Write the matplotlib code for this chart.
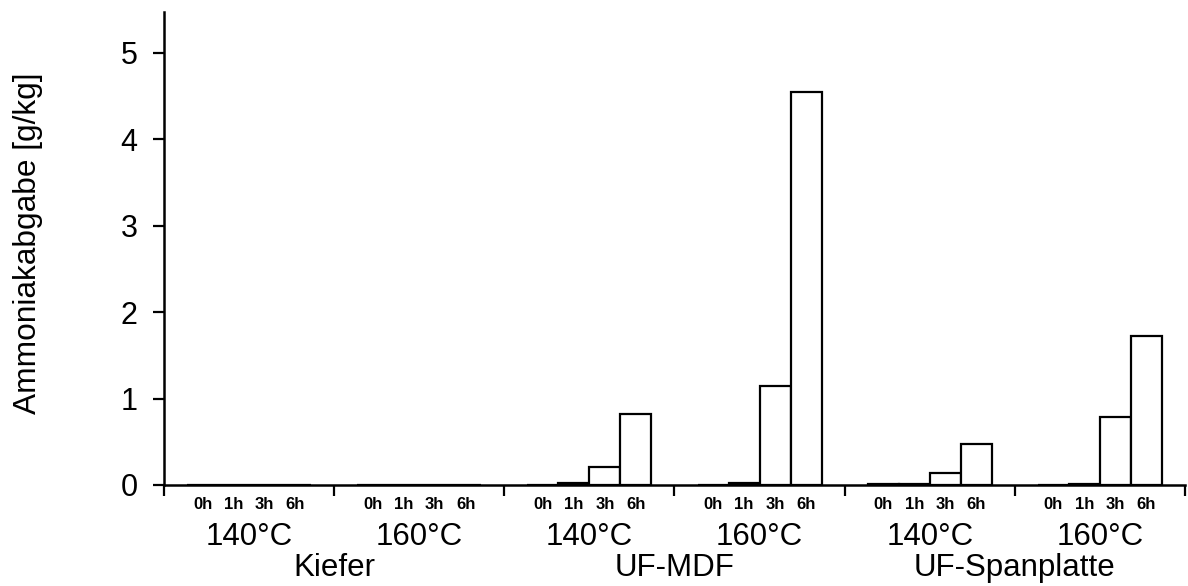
import numpy as np
import matplotlib
matplotlib.use("Agg")
import matplotlib.pyplot as plt

# Daten: Ammoniakabgabe [g/kg] nach Behandlungsdauer
materials = ["Kiefer", "UF-MDF", "UF-Spanplatte"]
temperatures = ["140°C", "160°C"]
hours = ["0h", "1h", "3h", "6h"]

kiefer_140 = [0.0, 0.0, 0.0, 0.0]
kiefer_160 = [0.0, 0.0, 0.0, 0.0]
mdf_140 = [0.005, 0.02, 0.21, 0.82]
mdf_160 = [0.005, 0.02, 1.14, 4.55]
span_140 = [0.01, 0.015, 0.14, 0.47]
span_160 = [0.005, 0.01, 0.79, 1.72]

groups = [kiefer_140, kiefer_160, mdf_140, mdf_160, span_140, span_160]

plt.rcParams["font.family"] = ["Liberation Sans", "DejaVu Sans"]

fig = plt.figure(figsize=(11.88, 5.86), dpi=100)
ax = fig.add_axes([0.138, 0.1724, 0.8595, 0.8071])

width = 0.182
tick_pos = []
tick_lab = []
for g, values in enumerate(groups):
    x = g + 0.5 + (np.arange(len(hours)) - 1.5) * width
    ax.bar(x, values, width=width, color="white", edgecolor="black",
           linewidth=1.6, zorder=3)
    tick_pos.extend(x)
    tick_lab.extend(hours)

ax.set_xlim(0, len(groups))
ax.set_ylim(0, 5.47)
ax.set_yticks(range(6))

# Stundenbeschriftung ohne Tickstriche, Gruppengrenzen mit Tickstrichen
ax.set_xticks(tick_pos)
ax.set_xticklabels(tick_lab, fontsize=12, fontweight="bold")
ax.tick_params(axis="x", which="major", length=0, pad=9)
ax.set_xticks(np.arange(len(groups) + 1), minor=True)
ax.tick_params(axis="x", which="minor", direction="out", length=8, width=1.6)
ax.tick_params(axis="y", direction="out", length=8, width=1.6,
               labelsize=22, pad=11)

for s in ["top", "right"]:
    ax.spines[s].set_visible(False)
for s in ["left", "bottom"]:
    ax.spines[s].set_linewidth(1.8)

trans = ax.get_xaxis_transform()
for g in range(len(groups)):
    ax.text(g + 0.5, -0.110, temperatures[g % 2], transform=trans,
            ha="center", va="center", fontsize=22.5)
for m, name in enumerate(materials):
    ax.text(2 * m + 1, -0.176, name, transform=trans,
            ha="center", va="center", fontsize=22.5)

ax.set_ylabel("Ammoniakabgabe [g/kg]", fontsize=22.8)
ax.yaxis.set_label_coords(-0.118, 0.512)

fig.savefig("out.png", dpi=100)
